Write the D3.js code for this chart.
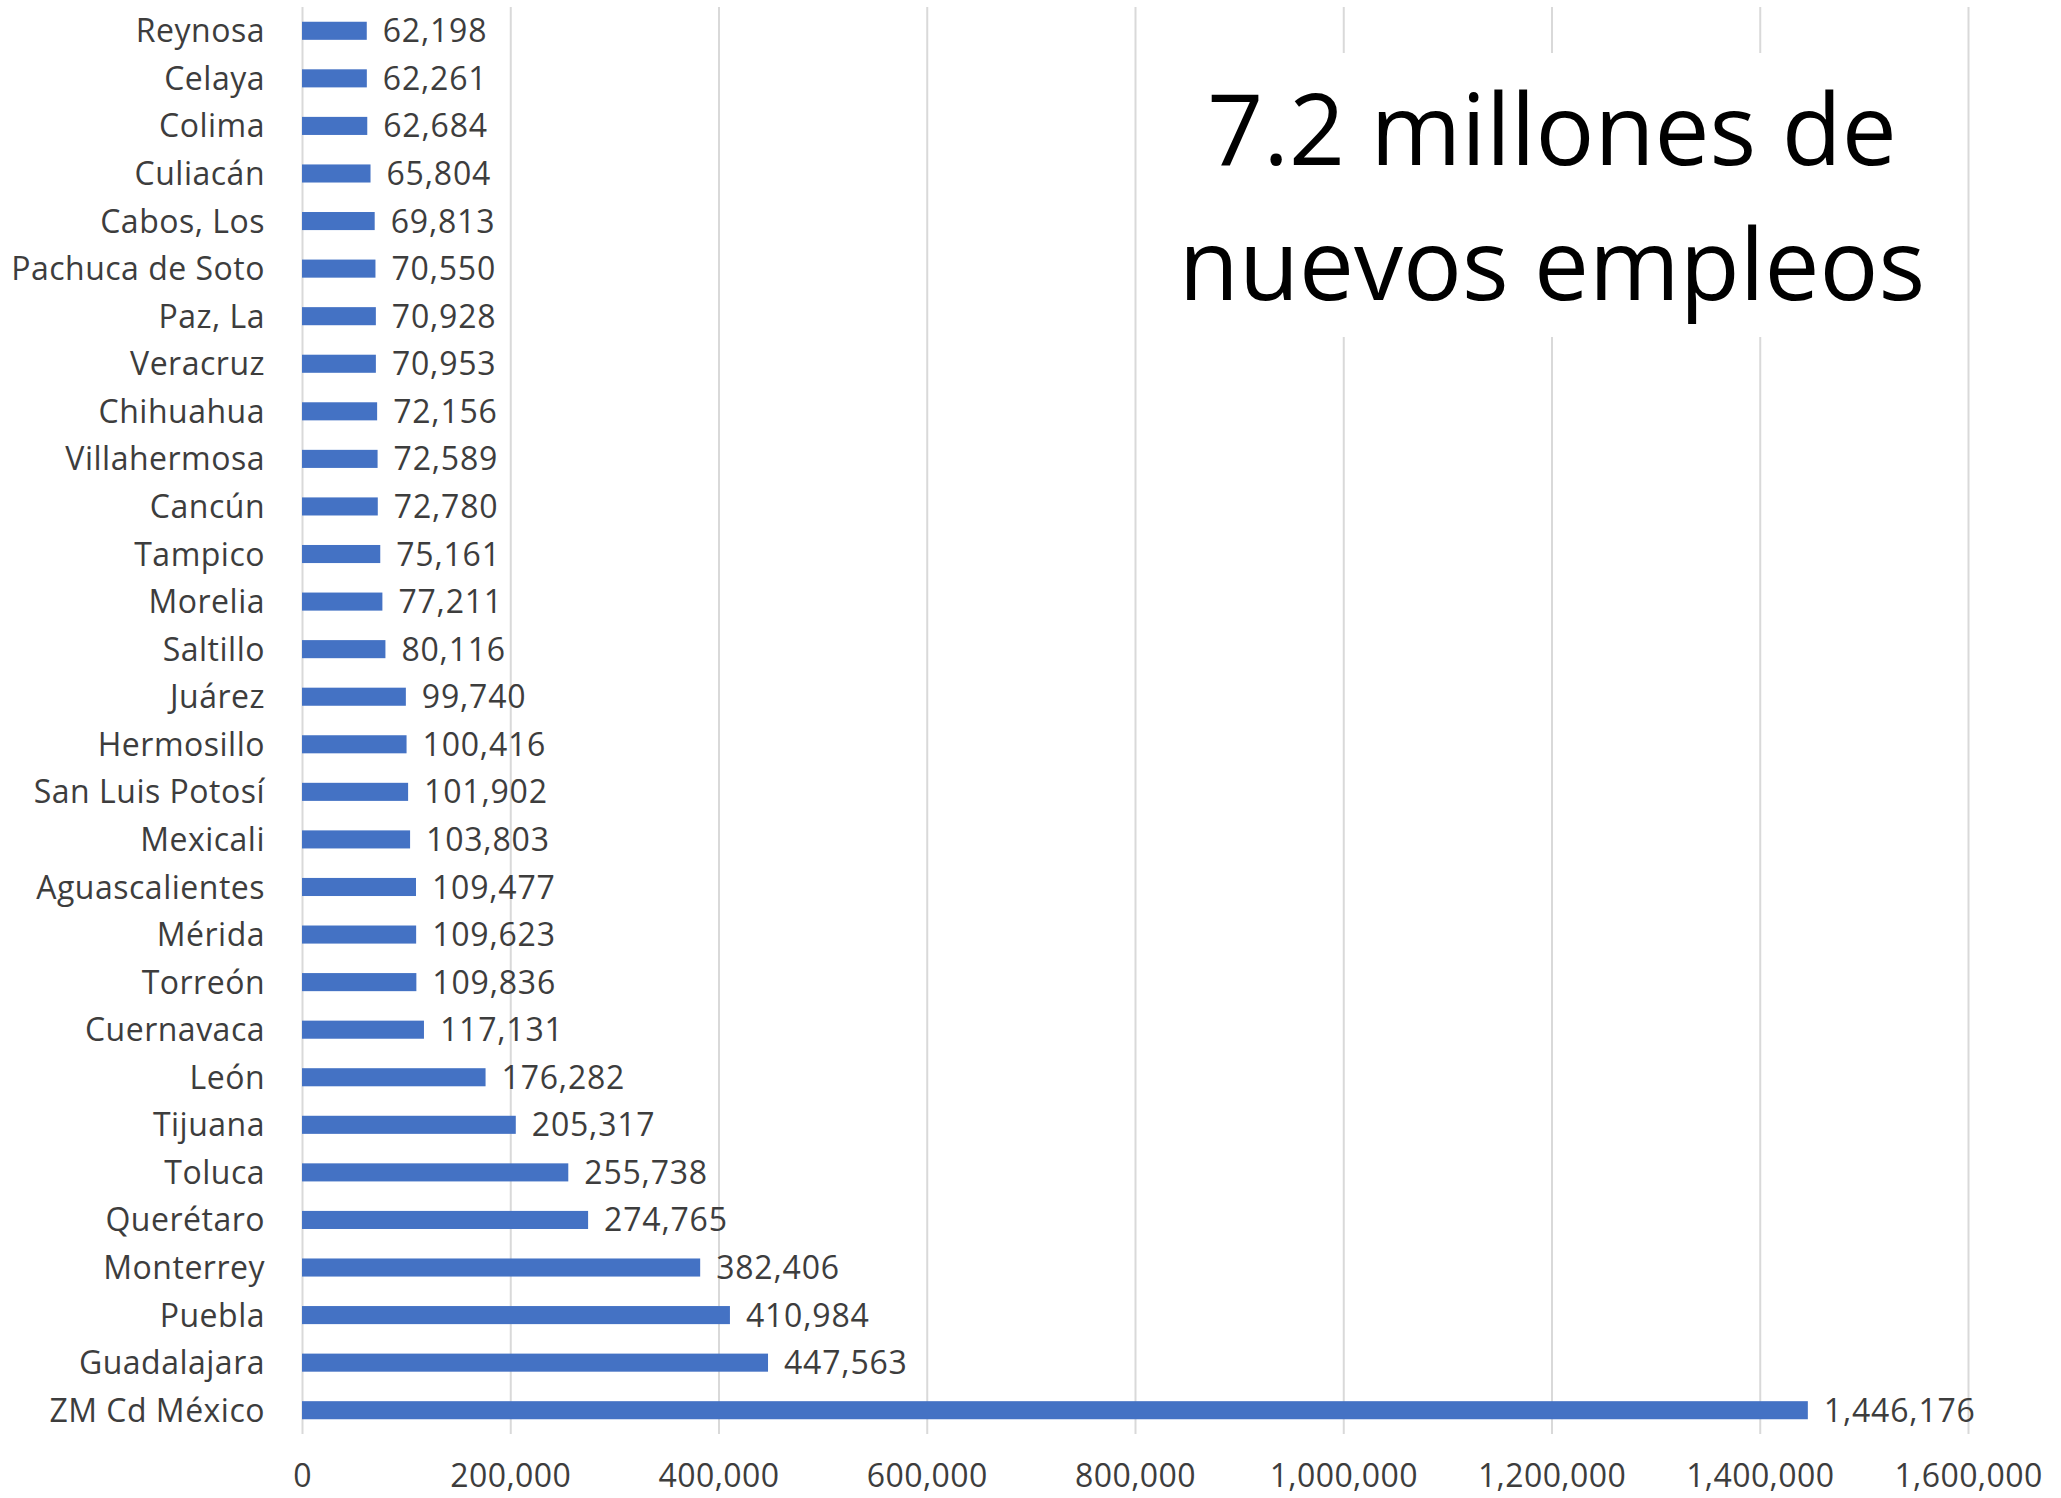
<!DOCTYPE html>
<html>
<head>
<meta charset="utf-8">
<script src="https://cdn.jsdelivr.net/npm/d3@7"></script>
<style>
  html, body { margin: 0; padding: 0; background: #ffffff; }
  svg { display: block; }
</style>
</head>
<body>
<svg id="chart" width="2061" height="1498"></svg>
<script>
const categories = [
  "Reynosa", "Celaya", "Colima", "Culiacán", "Cabos, Los", "Pachuca de Soto",
  "Paz, La", "Veracruz", "Chihuahua", "Villahermosa", "Cancún", "Tampico",
  "Morelia", "Saltillo", "Juárez", "Hermosillo", "San Luis Potosí", "Mexicali",
  "Aguascalientes", "Mérida", "Torreón", "Cuernavaca", "León", "Tijuana",
  "Toluca", "Querétaro", "Monterrey", "Puebla", "Guadalajara", "ZM Cd México"
];
const values = [
  62198, 62261, 62684, 65804, 69813, 70550,
  70928, 70953, 72156, 72589, 72780, 75161,
  77211, 80116, 99740, 100416, 101902, 103803,
  109477, 109623, 109836, 117131, 176282, 205317,
  255738, 274765, 382406, 410984, 447563, 1446176
];
const tickValues = [0, 200000, 400000, 600000, 800000, 1000000, 1200000, 1400000, 1600000];
const titleLines = ["7.2 millones de", "nuevos empleos"];

const data = categories.map((c, i) => ({ name: c, value: values[i] }));

const svg = d3.select("#chart");
const plot = { left: 302, right: 1968, top: 7, bottom: 1434 };
const fmt = d3.format(",");
const textColor = "#3d3d3d";
const font = "'Open Sans', 'Liberation Sans', sans-serif";

const x = d3.scaleLinear().domain([0, 1600000]).range([plot.left, plot.right]);
const y = d3.scaleBand().domain(categories).range([plot.top, plot.bottom])
  .paddingInner(0.62).paddingOuter(0.31);

// gridlines
const grid = svg.append("g")
  .attr("transform", `translate(0,${plot.bottom})`)
  .call(d3.axisBottom(x).tickValues(tickValues).tickSize(-(plot.bottom - plot.top)).tickFormat(""));
grid.select(".domain").remove();
grid.selectAll("line").attr("stroke", "#d9d9d9").attr("stroke-width", 2);

// white box behind title (covers gridlines)
svg.append("rect")
  .attr("x", 1150).attr("y", 53)
  .attr("width", 806).attr("height", 284)
  .attr("fill", "#ffffff");

// bars
svg.append("g").selectAll("rect")
  .data(data).join("rect")
  .attr("x", x(0))
  .attr("y", d => y(d.name))
  .attr("width", d => x(d.value) - x(0))
  .attr("height", y.bandwidth())
  .attr("fill", "#4472C4");

// value labels
svg.append("g").selectAll("text")
  .data(data).join("text")
  .attr("x", d => x(d.value) + 16)
  .attr("y", d => y(d.name) + y.bandwidth() / 2)
  .attr("dy", "0.36em")
  .attr("font-family", font)
  .attr("font-size", 32)
  .attr("letter-spacing", 0.8)
  .attr("fill", textColor)
  .text(d => fmt(d.value));

// category labels
const yAxis = svg.append("g")
  .attr("transform", `translate(${plot.left},0)`)
  .call(d3.axisLeft(y).tickSize(0).tickPadding(37));
yAxis.select(".domain").remove();
yAxis.selectAll("text")
  .attr("font-family", font)
  .attr("font-size", 32)
  .attr("letter-spacing", 0.5)
  .attr("fill", textColor)
  .attr("dy", "0.36em");

// x tick labels
const xAxis = svg.append("g")
  .attr("transform", `translate(0,${plot.bottom})`)
  .call(d3.axisBottom(x).tickValues(tickValues).tickSize(0).tickFormat(fmt));
xAxis.select(".domain").remove();
xAxis.selectAll("text")
  .attr("y", 53)
  .attr("dy", 0)
  .attr("font-family", font)
  .attr("font-size", 32)
  .attr("letter-spacing", 0.4)
  .attr("fill", textColor);

// title
svg.append("g").selectAll("text")
  .data(titleLines).join("text")
  .attr("x", 1552)
  .attr("y", (d, i) => i === 0 ? 165 : 300)
  .attr("text-anchor", "middle")
  .attr("font-family", font)
  .attr("font-size", 98)
  .attr("fill", "#000000")
  .text(d => d);
</script>
</body>
</html>
